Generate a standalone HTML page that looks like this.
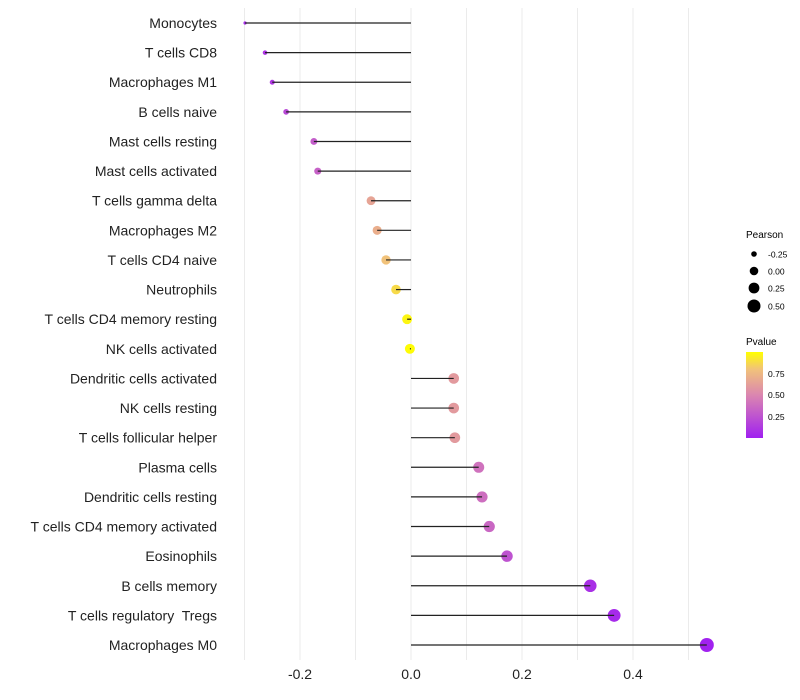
<!DOCTYPE html>
<html><head><meta charset="utf-8"><style>
body{margin:0;background:#fff;font-family:"Liberation Sans",sans-serif}
svg{display:block}
text{white-space:pre}
</style></head><body>
<svg id="chart" width="800" height="700" xmlns="http://www.w3.org/2000/svg">
<defs><linearGradient id="pg" x1="0" y1="1" x2="0" y2="0">
<stop offset="0" stop-color="#a020f0"/><stop offset="0.5" stop-color="#db86b0"/><stop offset="0.8" stop-color="#f1c27a"/><stop offset="1" stop-color="#ffff00"/></linearGradient></defs>
<g id="grid"></g><g id="points"></g><g id="marks"></g><g id="labels"></g>
<g font-size="10">
<text x="746" y="238" font-size="10">Pearson</text>
<circle cx="754" cy="254" r="2.8"/><text x="768" y="257.5" font-size="8.5">-0.25</text>
<circle cx="754" cy="271" r="4.3"/><text x="768" y="274.5" font-size="8.5">0.00</text>
<circle cx="754" cy="288" r="5.4"/><text x="768" y="291.5" font-size="8.5">0.25</text>
<circle cx="754" cy="306" r="6.5"/><text x="768" y="309.5" font-size="8.5">0.50</text>
</g>
<g>
<text x="746" y="345" font-size="10">Pvalue</text>
<rect x="746" y="352" width="17" height="86" fill="url(#pg)"/>
<text x="768" y="377" font-size="8.5">0.75</text>
<text x="768" y="398" font-size="8.5">0.50</text>
<text x="768" y="420" font-size="8.5">0.25</text>
</g>
</svg>
<script>
const categories=["Monocytes","T cells CD8","Macrophages M1","B cells naive","Mast cells resting","Mast cells activated","T cells gamma delta","Macrophages M2","T cells CD4 naive","Neutrophils","T cells CD4 memory resting","NK cells activated","Dendritic cells activated","NK cells resting","T cells follicular helper","Plasma cells","Dendritic cells resting","T cells CD4 memory activated","Eosinophils","B cells memory","T cells regulatory  Tregs","Macrophages M0"];
const pearson=[-0.299,-0.263,-0.25,-0.225,-0.175,-0.168,-0.072,-0.061,-0.045,-0.027,-0.007,-0.002,0.077,0.077,0.079,0.122,0.128,0.141,0.173,0.323,0.366,0.533];
const pvalues=[0.05,0.1,0.12,0.2,0.3,0.32,0.65,0.7,0.8,0.88,0.97,0.99,0.6,0.6,0.6,0.4,0.38,0.35,0.25,0.08,0.05,0.01];
const xTicks=[-0.2,0,0.2,0.4];
const xTickLabels=["-0.2","0.0","0.2","0.4"];
const NS="http://www.w3.org/2000/svg";
const x=v=>411+v*555;
const y=i=>23+i*(622/21);
const r=v=>Math.sqrt(Math.max(2.5,25+v*(v<0?75:45)));
function lerp(a,b,t){return a.map((c,k)=>Math.round(c+(b[k]-c)*t));}
const stops=[[0,[160,32,240]],[0.5,[219,134,176]],[0.8,[241,194,122]],[1,[255,255,0]]];
function col(p){for(let k=1;k<stops.length;k++){if(p<=stops[k][0]){const t=(p-stops[k-1][0])/(stops[k][0]-stops[k-1][0]);return "rgb("+lerp(stops[k-1][1],stops[k][1],t).join(",")+")";}}return "rgb(255,255,0)";}
function mk(t,a,parent){const e=document.createElementNS(NS,t);for(const k in a)e.setAttribute(k,a[k]);parent.appendChild(e);return e;}
const grid=document.getElementById('grid'),marks=document.getElementById('marks'),points=document.getElementById('points'),labels=document.getElementById('labels');
for(let v=-0.3;v<=0.55;v+=0.1){const g=mk('line',{x1:x(v),x2:x(v),y1:8,y2:660,stroke:'#ebebeb','stroke-width':1},grid);

}
xTicks.forEach((v,i)=>{const t=mk('text',{x:x(v),y:679,'text-anchor':'middle','font-size':14,fill:'#222'},labels);t.textContent=xTickLabels[i];

});
categories.forEach((c,i)=>{
const t=mk('text',{x:217,y:y(i)+5,'text-anchor':'end','font-size':14,fill:'#222'},labels);t.textContent=c;


const d=mk('circle',{cx:x(pearson[i]),cy:y(i),r:r(pearson[i]),fill:col(pvalues[i])},points);


const l=mk('line',{x1:x(0),x2:x(pearson[i]),y1:y(i),y2:y(i),stroke:'#222','stroke-width':1.2},marks);


});
</script>
</body></html>
